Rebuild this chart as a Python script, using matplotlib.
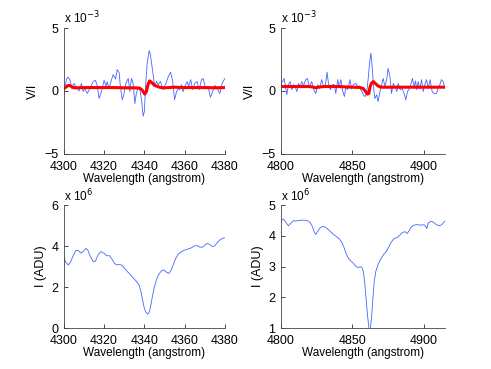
import matplotlib
matplotlib.use("Agg")
import matplotlib.pyplot as plt

plt.rcParams['font.family'] = ['Liberation Sans', 'DejaVu Sans']
plt.rcParams['font.size'] = 9

# --- H-gamma region, V/I (units of 1e-3) ---
hg_wl = [4300, 4301.3, 4302, 4303, 4304, 4305, 4306.3, 4307.5, 4308.8, 4309.6,
         4310.4, 4311.6, 4313, 4314.6, 4315.7, 4316.6, 4317.5, 4318.7, 4320, 4321,
         4321.5, 4322.5, 4323.7, 4324.5, 4325.7, 4326.5, 4327.5, 4328, 4329, 4329.8,
         4330.8, 4332, 4332.8, 4333.6, 4334.4, 4335.3, 4336, 4337, 4337.7, 4338.6,
         4339.4, 4340, 4340.6, 4341.4, 4342.4, 4343, 4344, 4345.2, 4346, 4346.9,
         4348, 4349.3, 4350.7, 4351.8, 4353, 4354, 4355, 4356, 4356.8, 4357.6,
         4358.4, 4359.3, 4360, 4361.3, 4362, 4363, 4364, 4365, 4366.2, 4367.2,
         4368.4, 4369.2, 4370.5, 4371.7, 4372.8, 4373.8, 4375, 4376.2, 4377.5, 4378.6,
         4380]
hg_vi = [-0.3, 0.9, 1.1, 0.9, 0.2, 0.6, 0.3, 0.0, 0.6, -0.05,
         0.2, -0.2, 0.2, 0.75, 0.85, 0.4, -0.6, -0.05, 0.85, 0.35,
         0.75, 0.2, 0.9, 1.3, 0.95, 1.7, 1.45, 0.5, -0.7, -0.3,
         0.6, 1.0, -0.05, 1.0, 0.6, -1.0, -0.2, 0.3, 0.2, -0.7,
         -2.0, -1.65, 0.35, 2.2, 3.2, 2.9, 1.7, 0.35, 0.75, 0.5,
         0.75, 0.1, 0.6, 1.1, 1.5, 0.85, -0.7, -0.05, 0.2, 0.1,
         0.5, -0.05, 0.35, 0.75, 0.35, 0.9, 0.1, 0.6, 0.75, 0.1,
         0.9, 1.0, 0.15, 0.35, -0.5, -0.1, 0.45, 0.2, -0.2, 0.6,
         1.0]
hg_fit_wl = [4300, 4301, 4302.2, 4303.3, 4304.5, 4306, 4310, 4315, 4320, 4325,
             4330, 4335, 4337.7, 4339, 4340.2, 4341, 4341.8, 4342.6, 4343.5, 4345,
             4346.6, 4348, 4350, 4355, 4360, 4365, 4370, 4375, 4380]
hg_fit = [0.2, 0.3, 0.45, 0.4, 0.28, 0.25, 0.27, 0.27, 0.27, 0.27,
          0.25, 0.25, 0.22, 0.05, -0.25, -0.05, 0.5, 0.8, 0.7, 0.45,
          0.35, 0.28, 0.25, 0.3, 0.27, 0.27, 0.27, 0.25, 0.27]

# --- H-beta region, V/I (units of 1e-3) ---
hb_wl = [4800, 4801.2, 4802.3, 4803.3, 4804.2, 4805.3, 4806.5, 4807.7, 4808.8, 4810,
         4811.2, 4812.3, 4813.5, 4814.7, 4815.8, 4817.4, 4818.6, 4820, 4821.6, 4823,
         4824.4, 4825.8, 4827, 4828.6, 4830, 4831, 4832.3, 4833.3, 4834.7, 4836,
         4837.4, 4838.4, 4839.8, 4840.7, 4842, 4843, 4844.4, 4845.6, 4846.7, 4848.4,
         4849.5, 4850.7, 4852.6, 4853.7, 4854.9, 4856, 4857.7, 4858.8, 4860, 4861.2,
         4862, 4863, 4864, 4865, 4865.8, 4867, 4868, 4869.3, 4870.5, 4871.6,
         4872.8, 4874, 4875, 4876.3, 4877.4, 4878.6, 4879.8, 4881.2, 4882, 4883.5,
         4884.9, 4886.3, 4887.4, 4888.6, 4889.8, 4890.9, 4892, 4893.3, 4894.2, 4895.1,
         4896, 4897.2, 4898.4, 4899.5, 4900.7, 4901.9, 4903, 4904.4, 4905.8, 4907.2,
         4908.8, 4910, 4911.2, 4912.3, 4913.5, 4914.7]
hb_vi = [0.6, 0.75, 1.0, 0.3, -0.3, 0.5, 0.75, 0.1, 0.5, 0.35,
         -0.05, 0.6, 0.35, 0.75, 0.4, 0.9, 1.0, 0.3, 0.75, 0.1,
         -0.2, 0.5, 0.2, 0.9, 0.3, 0.35, 1.5, 0.6, 0.1, 0.5,
         0.5, -0.2, 0.9, 0.3, 0.9, 0.1, -0.45, 0.35, 0.1, 0.9,
         0.15, 0.5, 0.6, 0.3, 0.4, 0.1, -0.3, -0.45, -0.2, 1.1,
         2.2, 3.0, 1.7, 0.1, -0.6, -0.3, -0.85, -0.05, 0.5, 1.0,
         0.35, 0.9, 1.8, 1.15, -0.2, 0.6, 0.35, -0.05, 0.6, 0.1,
         0.2, -0.25, -0.7, -0.05, 0.15, 0.5, 1.0, 0.35, 0.8, 0.1,
         0.75, 0.15, 0.9, -0.05, 0.5, 0.9, 0.2, 0.9, -0.05, -0.2,
         -0.2, 0.2, 0.5, 0.9, 0.75, 0.2]
hb_fit_wl = [4800, 4810, 4820, 4823, 4824.5, 4826, 4830, 4840, 4850, 4855,
             4857.5, 4859, 4860.5, 4861.5, 4862.3, 4863.3, 4864.7, 4866.5, 4868, 4870,
             4875, 4885, 4895, 4905, 4914.7]
hb_fit = [0.35, 0.35, 0.35, 0.3, 0.25, 0.3, 0.35, 0.35, 0.3, 0.28,
          0.2, 0.0, -0.25, -0.2, 0.28, 0.6, 0.75, 0.55, 0.4, 0.3,
          0.3, 0.3, 0.3, 0.3, 0.3]

# --- H-gamma intensity (units of 1e6 ADU) ---
ig_wl = [4300, 4301, 4302.2, 4303.3, 4304.6, 4306, 4307.1, 4308.4, 4309.6, 4311,
         4312, 4313.2, 4314.6, 4315.7, 4317, 4318.4, 4319.9, 4321.2, 4322.8, 4324.2,
         4325.3, 4326.5, 4327.8, 4329.1, 4330.8, 4332.8, 4334.4, 4336.1, 4337.4, 4338.3,
         4339.1, 4339.9, 4340.7, 4341.6, 4342.4, 4343.2, 4344, 4344.9, 4346, 4347.2,
         4348.5, 4349.7, 4351, 4352.2, 4353.1, 4354.3, 4355.6, 4356.8, 4358.4, 4360.1,
         4361.8, 4363.4, 4365.1, 4366.4, 4367.5, 4368.9, 4370, 4371.2, 4372.5, 4373.8,
         4375, 4376.3, 4377.5, 4378.8, 4380]
ig_flux = [3.48, 3.21, 3.08, 3.21, 3.53, 3.79, 3.79, 3.66, 3.73, 3.89,
           3.79, 3.48, 3.24, 3.27, 3.57, 3.73, 3.66, 3.53, 3.53, 3.32,
           3.14, 3.08, 3.11, 3.05, 2.84, 2.63, 2.46, 2.27, 2.1, 1.78,
           1.38, 1.0, 0.78, 0.68, 0.78, 1.1, 1.54, 1.98, 2.35, 2.63,
           2.79, 2.84, 2.72, 2.67, 2.79, 3.08, 3.4, 3.6, 3.73, 3.81,
           3.86, 3.92, 4.02, 4.02, 3.95, 3.95, 4.05, 4.13, 4.08, 3.97,
           4.02, 4.18, 4.3, 4.38, 4.41]

# --- H-beta intensity (units of 1e6 ADU) ---
ib_wl = [4800, 4801.9, 4803.5, 4805.3, 4807, 4808.8, 4810.5, 4812.3, 4814.2, 4816.5,
         4818.8, 4820.5, 4822.1, 4823.5, 4824.4, 4825.8, 4827.4, 4829.3, 4830.9, 4832.8,
         4834.6, 4836.7, 4839.1, 4840.9, 4842.6, 4844.2, 4845.6, 4847.2, 4849.1, 4850.7,
         4852.6, 4854.2, 4855.8, 4857, 4857.9, 4858.8, 4859.8, 4860.7, 4861.6, 4862.6,
         4863.5, 4864.4, 4865.3, 4866.5, 4868.1, 4870, 4871.9, 4873.7, 4875.6, 4877.4,
         4879.3, 4881.2, 4883.3, 4884.9, 4886.7, 4888.4, 4890, 4891.4, 4893.3, 4895.1,
         4897, 4898.8, 4900.7, 4902.1, 4903, 4904.4, 4905.8, 4907.2, 4908.6, 4910,
         4911.4, 4912.8, 4914.7]
ib_flux = [4.51, 4.54, 4.44, 4.33, 4.41, 4.5, 4.48, 4.5, 4.51, 4.51,
           4.49, 4.44, 4.3, 4.11, 4.05, 4.15, 4.26, 4.31, 4.29, 4.22,
           4.14, 4.05, 3.97, 3.9, 3.79, 3.62, 3.43, 3.27, 3.18, 3.11,
           3.0, 2.97, 3.0, 2.95, 2.78, 2.4, 1.86, 1.38, 0.98, 0.98,
           1.38, 1.97, 2.51, 2.86, 3.08, 3.25, 3.4, 3.49, 3.65, 3.81,
           3.92, 3.94, 4.03, 4.1, 4.14, 4.08, 4.19, 4.3, 4.35, 4.37,
           4.35, 4.36, 4.35, 4.24, 4.41, 4.46, 4.47, 4.43, 4.37, 4.34,
           4.33, 4.38, 4.48]

BLUE = '#4466ff'
fig = plt.figure(figsize=(4.91, 3.69), dpi=100)


def style(ax, xlim, ylim, xticks, yticks, ylabel, mult, ylabelpad):
    ax.set_xlim(xlim)
    ax.set_ylim(ylim)
    ax.set_xticks(xticks)
    ax.set_yticks(yticks)
    ax.spines['top'].set_visible(False)
    ax.spines['right'].set_visible(False)
    for s in ('left', 'bottom'):
        ax.spines[s].set_linewidth(0.6)
        ax.spines[s].set_color('#444444')
    ax.tick_params(direction='in', length=3, width=0.5, labelsize=9)
    ax.tick_params(axis='y', pad=4)
    ax.tick_params(axis='x', pad=5)
    ax.set_xlabel('Wavelength (angstrom)', fontsize=8.5, labelpad=0)
    ax.set_ylabel(ylabel, fontsize=9, labelpad=ylabelpad)
    ax.text(0.0, 1.01, 'x 10$^{%s}$' % mult, transform=ax.transAxes,
            fontsize=8.5, ha='left', va='bottom')


ax1 = fig.add_axes([0.130, 0.583, 0.328, 0.341])
ax1.plot(hg_wl, hg_vi, color=BLUE, lw=0.6)
ax1.plot(hg_fit_wl, hg_fit, color='red', lw=2.2)
style(ax1, (4300, 4380), (-5, 5), [4300, 4320, 4340, 4360, 4380], [-5, 0, 5], 'V/I', '-3', 4)

ax2 = fig.add_axes([0.572, 0.583, 0.334, 0.341])
ax2.plot(hb_wl, hb_vi, color=BLUE, lw=0.6)
ax2.plot(hb_fit_wl, hb_fit, color='red', lw=2.2)
style(ax2, (4800, 4914.7), (-5, 5), [4800, 4850, 4900], [-5, 0, 5], 'V/I', '-3', 4)

ax3 = fig.add_axes([0.130, 0.111, 0.328, 0.333])
ax3.plot(ig_wl, ig_flux, color=BLUE, lw=0.6)
style(ax3, (4300, 4380), (0, 6), [4300, 4320, 4340, 4360, 4380], [0, 2, 4, 6], 'I (ADU)', '6', 3)

ax4 = fig.add_axes([0.572, 0.111, 0.334, 0.333])
ax4.plot(ib_wl, ib_flux, color=BLUE, lw=0.6)
style(ax4, (4800, 4914.7), (1, 5), [4800, 4850, 4900], [1, 2, 3, 4, 5], 'I (ADU)', '6', 3)

fig.savefig('out.png', dpi=100)
